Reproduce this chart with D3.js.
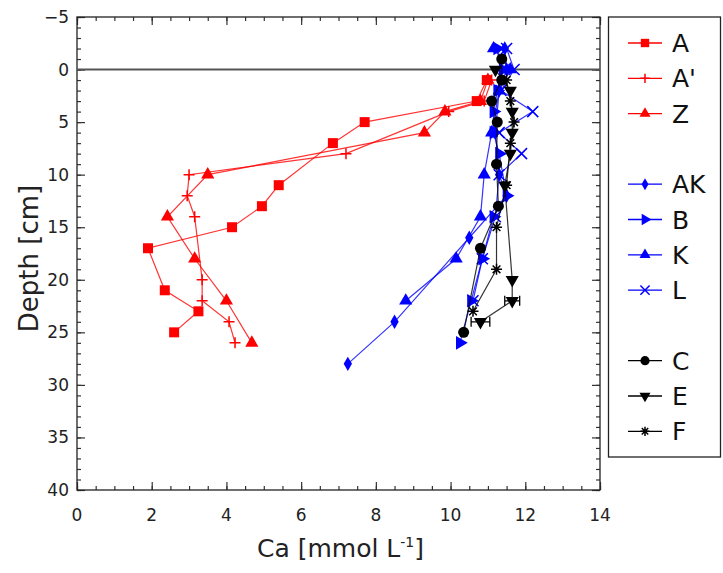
<!DOCTYPE html>
<html>
<head>
<meta charset="utf-8">
<script src="https://cdnjs.cloudflare.com/ajax/libs/d3/7.8.5/d3.min.js"></script>
<style>
  body { margin: 0; background: #fff; }
  text { font-family: "DejaVu Sans", sans-serif; }
</style>
</head>
<body>
<svg id="chart" width="723" height="573"></svg>
<script>
// series values: depth [cm] and Ca [mmol/L]
const depthA  = [1, 3, 5, 7, 11, 13, 15, 17, 21, 23, 25];
const caA     = [10.97, 10.7, 7.7, 6.85, 5.4, 4.95, 4.15, 1.9, 2.35, 3.25, 2.6];
const depthA2 = [1, 3, 4, 8, 10, 12, 14, 20, 22, 24, 26];
const caA2    = [11.1, 10.9, 9.95, 7.2, 3.0, 2.95, 3.15, 3.35, 3.35, 4.07, 4.23];
const depthZ  = [1, 3, 4, 6, 10, 14, 18, 22, 26];
const caZ     = [11.0, 10.8, 9.85, 9.3, 3.5, 2.42, 3.15, 4.0, 4.68];

const depthAK = [-2, 0, 2, 6, 10, 12, 16, 24, 28];
const caAK    = [11.45, 11.5, 11.3, 11.2, 11.3, 11.5, 10.5, 8.5, 7.25];
const depthB  = [-2, 0, 2, 4, 6, 8, 12, 14, 18, 22, 26];
const caB     = [11.25, 11.4, 11.25, 11.15, 11.15, 11.3, 11.5, 11.15, 10.85, 10.55, 10.25];
const depthK  = [-2, 0, 2, 6, 10, 14, 18, 22];
const caK     = [11.15, 11.6, 11.3, 11.1, 10.9, 10.8, 10.15, 8.8];
const depthL  = [-2, 0, 2, 4, 6, 8, 10, 14, 18, 22];
const caL     = [11.5, 11.7, 11.35, 12.2, 11.3, 11.9, 11.3, 11.2, 10.85, 10.6];

const depthC  = [-1, 1, 3, 5, 9, 13, 17, 25];
const caC     = [11.37, 11.37, 11.1, 11.25, 11.23, 11.28, 10.8, 10.35];
const depthE  = [0, 2, 4, 6, 8, 11, 20, 22, 24];
const caE     = [11.2, 11.6, 11.65, 11.65, 11.6, 11.45, 11.65, 11.65, 10.8];
const errE    = [0, 0, 0, 0, 0, 0, 0, 0.2, 0.25];
const depthF  = [1, 3, 5, 7, 11, 15, 19, 23];
const caF     = [11.5, 11.6, 11.7, 11.6, 11.5, 11.23, 11.23, 10.6];

const seriesNames = ["A", "A'", "Z", "", "AK", "B", "K", "L", "", "C", "E", "F"];
const xTicks = [0, 2, 4, 6, 8, 10, 12, 14];
const yTicks = [-5, 0, 5, 10, 15, 20, 25, 30, 35, 40];

const series = [
  {name: "A",  d: depthA,  v: caA,  color: "#ff0000", mk: "square"},
  {name: "A'", d: depthA2, v: caA2, color: "#ff0000", mk: "plus"},
  {name: "Z",  d: depthZ,  v: caZ,  color: "#ff0000", mk: "up"},
  {name: "AK", d: depthAK, v: caAK, color: "#0000ff", mk: "diamond"},
  {name: "B",  d: depthB,  v: caB,  color: "#0000ff", mk: "right"},
  {name: "K",  d: depthK,  v: caK,  color: "#0000ff", mk: "up"},
  {name: "L",  d: depthL,  v: caL,  color: "#0000ff", mk: "x"},
  {name: "C",  d: depthC,  v: caC,  color: "#000000", mk: "circle"},
  {name: "E",  d: depthE,  v: caE,  color: "#000000", mk: "down", err: errE},
  {name: "F",  d: depthF,  v: caF,  color: "#000000", mk: "star"}
];

const svg = d3.select("#chart");
const L = 77, R = 600, T = 17, B = 490;

const x = d3.scaleLinear().domain([0, 14]).range([L, R]);
const y = d3.scaleLinear().domain([-5, 40]).range([T, B]);

// axes, ticks drawn inward
function axis(gen, tx, ty, vals, size) {
  svg.append("g").attr("transform", `translate(${tx},${ty})`)
    .call(gen.tickValues(vals).tickSize(size).tickFormat(""))
    .call(g => g.select(".domain").remove())
    .selectAll("line").attr("stroke", "#333").attr("stroke-width", 1.2);
}
const xMinor = d3.range(0, 14.01, 0.5), yMinor = d3.range(-5, 40.01, 1);
axis(d3.axisTop(x), 0, B, xMinor, 4);
axis(d3.axisTop(x), 0, B, xTicks, 8);
axis(d3.axisBottom(x), 0, T, xMinor, 4);
axis(d3.axisBottom(x), 0, T, xTicks, 8);
axis(d3.axisRight(y), L, 0, yMinor, 4);
axis(d3.axisRight(y), L, 0, yTicks, 8);
axis(d3.axisLeft(y), R, 0, yMinor, 4);
axis(d3.axisLeft(y), R, 0, yTicks, 8);

svg.append("rect").attr("x", L).attr("y", T).attr("width", R - L).attr("height", B - T)
  .attr("fill", "none").attr("stroke", "#222").attr("stroke-width", 1.3);

svg.selectAll(".xl").data(xTicks).join("text")
  .attr("x", d => x(d)).attr("y", B + 31).attr("text-anchor", "middle")
  .attr("font-size", 17).attr("fill", "#222").text(d => d);
svg.selectAll(".yl").data(yTicks).join("text")
  .attr("x", L - 8).attr("y", d => y(d) + 6).attr("text-anchor", "end")
  .attr("font-size", 17).attr("fill", "#222").text(d => d < 0 ? "\u2212" + (-d) : d);

// zero line
svg.append("line").attr("x1", L).attr("x2", R).attr("y1", y(0)).attr("y2", y(0))
  .attr("stroke", "#555").attr("stroke-width", 2);

// axis titles
const xt = svg.append("text").attr("x", (L + R) / 2 + 2).attr("y", 557)
  .attr("text-anchor", "middle").attr("font-size", 25).attr("fill", "#222");
xt.append("tspan").text("Ca [mmol L");
xt.append("tspan").attr("font-size", 14).attr("dy", -10).text("-1");
xt.append("tspan").attr("dy", 10).text("]");
svg.append("text").attr("transform", `translate(38,${(T + B) / 2 + 5}) rotate(-90)`)
  .attr("text-anchor", "middle").attr("font-size", 26).attr("fill", "#222").text("Depth [cm]");

// markers
function marker(g, mk, color, s) {
  const sym = {square: [d3.symbolSquare, 0], up: [d3.symbolTriangle, 0], down: [d3.symbolTriangle, 180],
               right: [d3.symbolTriangle, 90], diamond: [d3.symbolDiamond, 0], circle: [d3.symbolCircle, 0]}[mk];
  if (sym) {
    const size = {square: 100, up: 75, down: 75, right: 80, diamond: 60, circle: 95}[mk] * s;
    g.append("path").attr("d", d3.symbol(sym[0], size)()).attr("transform", `rotate(${sym[1]})`)
      .attr("fill", color);
  } else {
    const r = 5.5 * Math.sqrt(s);
    let p;
    if (mk === "plus") p = `M${-r},0H${r}M0,${-r}V${r}`;
    else if (mk === "x") p = `M${-r},${-r}L${r},${r}M${-r},${r}L${r},${-r}`;
    else p = `M${-r},0H${r}M0,${-r}V${r}M${-r*0.7},${-r*0.7}L${r*0.7},${r*0.7}M${-r*0.7},${r*0.7}L${r*0.7},${-r*0.7}`;
    g.append("path").attr("d", p).attr("stroke", color).attr("stroke-width", 1.5).attr("fill", "none");
  }
}

const line = d3.line().x(d => x(d[1])).y(d => y(d[0]));
series.forEach(s => {
  const pts = s.d.map((d, i) => [d, s.v[i], s.err ? s.err[i] : 0]);
  svg.append("path").datum(pts).attr("d", line).attr("fill", "none")
    .attr("stroke", s.color).attr("stroke-width", 1.2).attr("stroke-opacity", 0.8);
  pts.filter(p => p[2] > 0).forEach(p => {
    svg.append("path").attr("fill", "none").attr("stroke", s.color).attr("stroke-width", 1.3)
      .attr("d", `M${x(p[1] - p[2])},${y(p[0])}H${x(p[1] + p[2])}M${x(p[1] - p[2])},${y(p[0]) - 5}v10M${x(p[1] + p[2])},${y(p[0]) - 5}v10`);
  });
  pts.forEach(p => {
    marker(svg.append("g").attr("transform", `translate(${x(p[1])},${y(p[0])})`), s.mk, s.color, 1);
  });
});

// legend
svg.append("rect").attr("x", 608.5).attr("y", 17).attr("width", 112).attr("height", 440)
  .attr("fill", "#fff").attr("stroke", "#222").attr("stroke-width", 1.3);
seriesNames.forEach((n, i) => {
  if (!n) return;
  const s = series.find(q => q.name === n);
  const ly = 43 + i * 35.3;
  svg.append("line").attr("x1", 628).attr("x2", 662).attr("y1", ly).attr("y2", ly)
    .attr("stroke", s.color).attr("stroke-width", 1.3);
  marker(svg.append("g").attr("transform", `translate(645,${ly})`), s.mk, s.color, 0.7);
  svg.append("text").attr("x", 672).attr("y", ly + 9).attr("font-size", 25).attr("fill", "#111").text(n);
});
</script>
</body>
</html>
